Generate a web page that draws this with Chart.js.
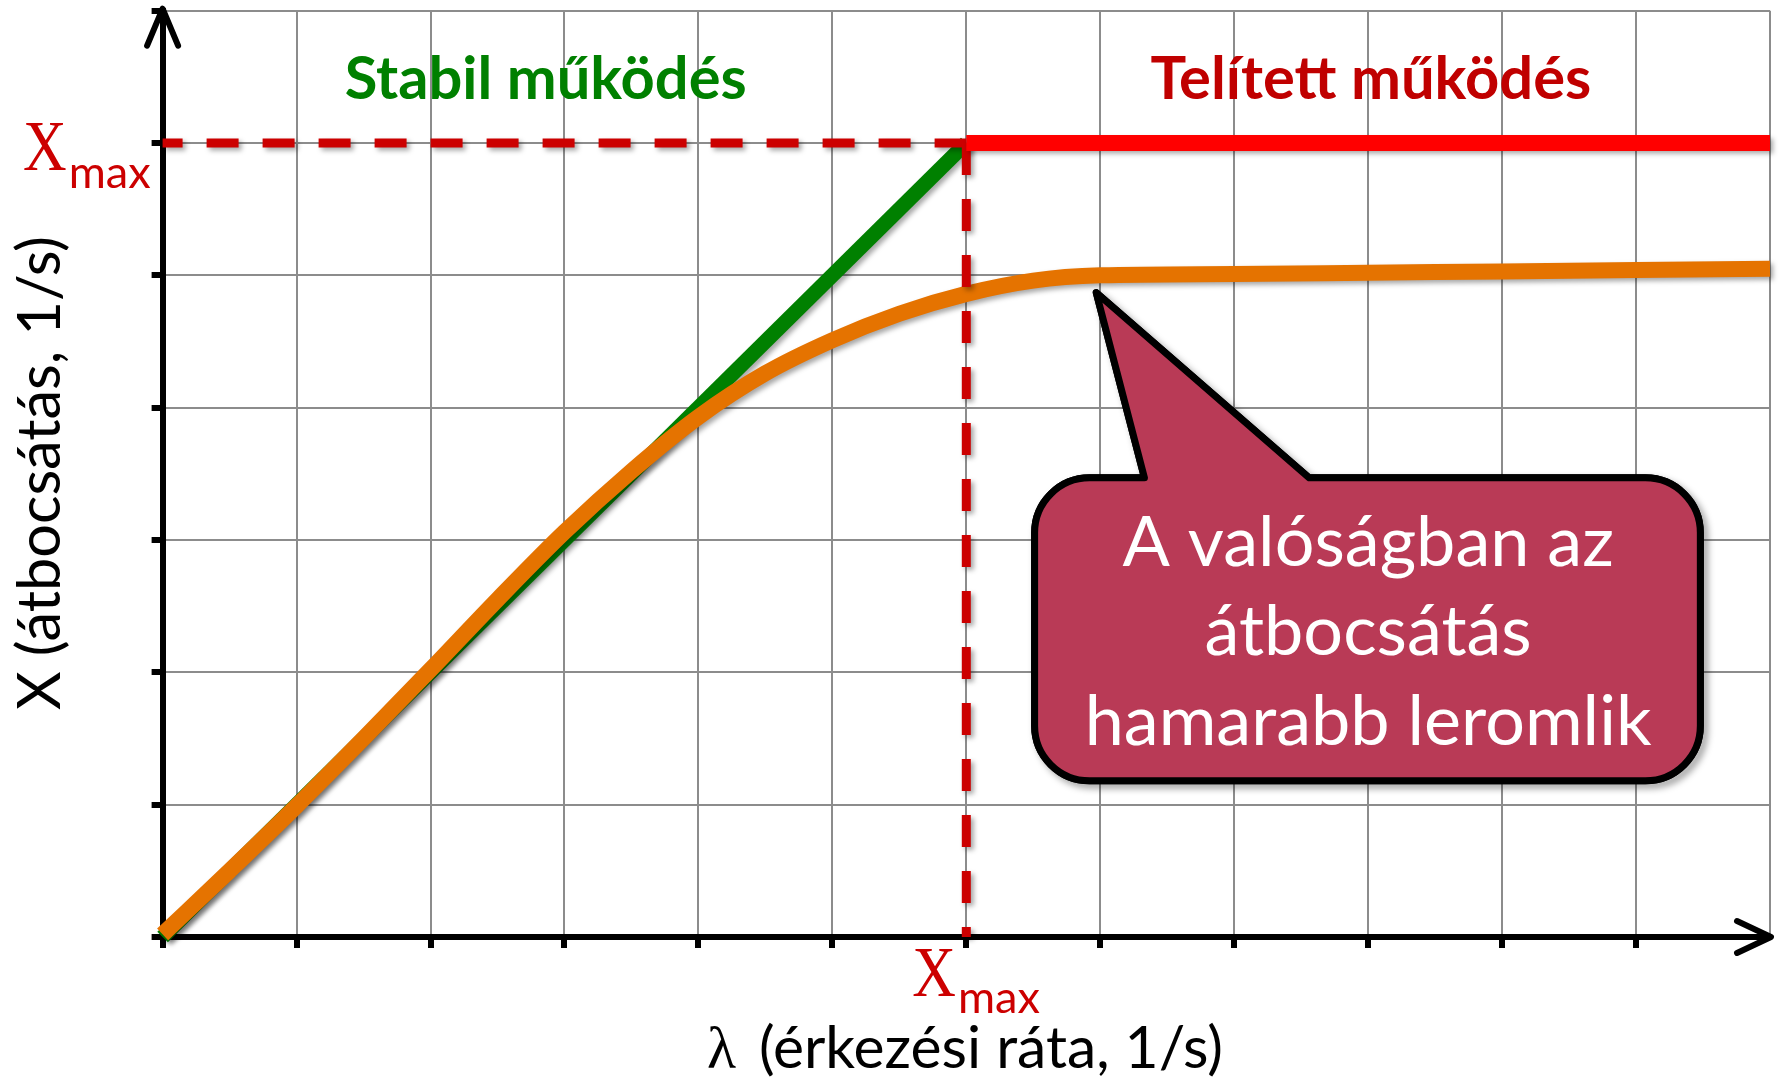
<!DOCTYPE html>
<html>
<head>
<meta charset="utf-8">
<script src="https://cdn.jsdelivr.net/npm/chart.js@4.4.1/dist/chart.umd.min.js"></script>
<style>
html, body { margin: 0; padding: 0; background: #fff; }
</style>
</head>
<body>
<canvas id="grafico" width="1783" height="1078"></canvas>
<script>
// értékek (tengelyegységek: rácsnégyzetek)
const xMax = 6;
const xTicks = [0, 1, 2, 3, 4, 5, 6, 7, 8, 9, 10, 11, 12];
const yTicks = [0, 1, 2, 3, 4, 5, 6, 7];

const stabilX = [0, 6];
const stabilY = [0, 6];

const telitettX = [6, 12];
const telitettY = [6, 6];

const valosX = [0, 0.5, 1, 1.5, 2, 2.5, 3, 3.5, 4, 4.5, 5, 5.5, 6, 6.5, 7, 8, 9, 10, 11, 12];
const valosY = [0.02, 0.5, 0.99, 1.5, 2.02, 2.55, 3.06, 3.52, 3.93, 4.26, 4.51, 4.71, 4.86, 4.96, 5.0, 5.01, 5.02, 5.03, 5.04, 5.05];

const cimStabil = "Stabil működés";
const cimTelitett = "Telített működés";
const tengelyX = "(érkezési ráta, 1/s)";
const tengelyY = "X (átbocsátás, 1/s)";
const buborekSorok = ["A valóságban az", "átbocsátás", "hamarabb leromlik"];

function pontok(xs, ys) {
    return xs.map((x, i) => ({ x: x, y: ys[i] }));
}

function illeszt(ctx, szoveg, font, szelesseg) {
    ctx.font = font.replace('SIZE', '100px');
    return 100 * szelesseg / ctx.measureText(szoveg).width;
}

const arnyek = {
    id: 'arnyek',
    beforeDatasetDraw(chart) {
        const c = chart.ctx;
        c.save();
        c.shadowColor = 'rgba(0,0,0,0.35)';
        c.shadowBlur = 5;
        c.shadowOffsetX = 3;
        c.shadowOffsetY = 3;
    },
    afterDatasetDraw(chart) {
        chart.ctx.restore();
    }
};

function xmaxCimke(ctx, xBal, alapX, alapMax) {
    ctx.save();
    ctx.fillStyle = '#cc0000';
    ctx.textAlign = 'left';
    ctx.textBaseline = 'alphabetic';
    ctx.save();
    ctx.translate(xBal, alapX);
    ctx.scale(0.84, 1);
    ctx.font = '72px "Liberation Serif"';
    ctx.fillText('X', 0, 0);
    const xSz = ctx.measureText('X').width * 0.84;
    ctx.restore();
    const meret = illeszt(ctx, 'max', 'SIZE Lato', 82);
    ctx.font = meret + 'px Lato';
    ctx.fillText('max', xBal + xSz + 2, alapMax);
    ctx.restore();
}

function buborekUt(ctx, L, T, R, B, r, csucsX, csucsY, b1, b2) {
    ctx.beginPath();
    ctx.moveTo(L + r, T);
    ctx.lineTo(b1, T);
    ctx.lineTo(csucsX, csucsY);
    ctx.lineTo(b2, T);
    ctx.lineTo(R - r, T);
    ctx.arcTo(R, T, R, T + r, r);
    ctx.lineTo(R, B - r);
    ctx.arcTo(R, B, R - r, B, r);
    ctx.lineTo(L + r, B);
    ctx.arcTo(L, B, L, B - r, r);
    ctx.lineTo(L, T + r);
    ctx.arcTo(L, T, L + r, T, r);
    ctx.closePath();
}

const rajz = {
    id: 'rajz',
    afterDraw(chart) {
        const ctx = chart.ctx;
        const sx = chart.scales.x;
        const sy = chart.scales.y;
        const px = v => sx.getPixelForValue(v);
        const py = v => sy.getPixelForValue(v);
        const a = chart.chartArea;

        // nyilak
        ctx.save();
        ctx.strokeStyle = '#000';
        ctx.lineWidth = 6;
        ctx.lineCap = 'round';
        ctx.lineJoin = 'round';
        ctx.beginPath();
        ctx.moveTo(a.left - 15.5, a.top + 35);
        ctx.lineTo(a.left, a.top - 2);
        ctx.lineTo(a.left + 15.5, a.top + 35);
        ctx.stroke();
        ctx.beginPath();
        ctx.moveTo(a.right - 33, a.bottom - 16);
        ctx.lineTo(a.right + 1, a.bottom);
        ctx.lineTo(a.right - 33, a.bottom + 16);
        ctx.stroke();
        ctx.restore();

        // címek
        ctx.save();
        ctx.textAlign = 'center';
        ctx.textBaseline = 'alphabetic';
        let m = illeszt(ctx, cimStabil, 'bold SIZE Lato', 402);
        ctx.font = 'bold ' + m + 'px Lato';
        ctx.fillStyle = '#008000';
        ctx.fillText(cimStabil, px(2.86), py(6.33));
        m = illeszt(ctx, cimTelitett, 'bold SIZE Lato', 441);
        ctx.font = 'bold ' + m + 'px Lato';
        ctx.fillStyle = '#c00000';
        ctx.fillText(cimTelitett, px(9.02), py(6.33));
        ctx.restore();

        // x tengely felirat
        ctx.save();
        ctx.fillStyle = '#000';
        ctx.textAlign = 'left';
        m = illeszt(ctx, tengelyX, 'SIZE Lato', 464);
        ctx.font = m + 'px Lato';
        ctx.fillText(tengelyX, 759, 1068);
        ctx.font = (m * 1.02) + 'px "Liberation Serif"';
        ctx.fillText('λ', 707, 1068);
        ctx.restore();

        // y tengely felirat
        ctx.save();
        ctx.fillStyle = '#000';
        ctx.textAlign = 'center';
        m = illeszt(ctx, tengelyY, 'SIZE Lato', 474);
        ctx.font = m + 'px Lato';
        ctx.translate(60, 473);
        ctx.rotate(-Math.PI / 2);
        ctx.fillText(tengelyY, 0, 0);
        ctx.restore();

        // Xmax feliratok
        xmaxCimke(ctx, 23, 170, 188);
        xmaxCimke(ctx, px(xMax) - 54, 996, 1013);

        // buborék
        const L = px(6.51), R = px(11.48), T = py(3.47), B = py(1.18);
        ctx.save();
        ctx.lineWidth = 7;
        ctx.lineJoin = 'round';
        ctx.strokeStyle = '#000';
        buborekUt(ctx, L, T, R, B, 55, px(6.97), py(4.87), px(7.33), px(8.56));
        ctx.shadowColor = 'rgba(0,0,0,0.4)';
        ctx.shadowBlur = 7;
        ctx.shadowOffsetX = 4;
        ctx.shadowOffsetY = 4;
        ctx.stroke();
        ctx.shadowColor = 'rgba(0,0,0,0)';
        ctx.fillStyle = '#b93a56';
        ctx.fill();
        ctx.stroke();

        ctx.fillStyle = '#fff';
        ctx.textAlign = 'center';
        m = illeszt(ctx, buborekSorok[2], 'SIZE Lato', 567);
        ctx.font = m + 'px Lato';
        const alap = [py(2.80), py(2.13), py(1.45)];
        buborekSorok.forEach((s, i) => ctx.fillText(s, px(9.0), alap[i]));
        ctx.restore();
    }
};

const ctx = document.getElementById('grafico').getContext('2d');
new Chart(ctx, {
    type: 'line',
    data: {
        datasets: [
            {
                label: 'Telített',
                data: pontok(telitettX, telitettY),
                borderColor: '#ff0000',
                borderWidth: 16,
                borderCapStyle: 'butt'
            },
            {
                label: 'Xmax függőleges',
                data: [{ x: xMax, y: xMax }, { x: xMax, y: 0 }],
                borderColor: '#cc0000',
                borderWidth: 9,
                borderDash: [32, 24],
                borderCapStyle: 'butt'
            },
            {
                label: 'Xmax vízszintes',
                data: [{ x: 0, y: xMax }, { x: xMax, y: xMax }],
                borderColor: '#cc0000',
                borderWidth: 9,
                borderDash: [32, 24],
                borderDashOffset: 12,
                borderCapStyle: 'butt'
            },
            {
                label: 'Valós',
                data: pontok(valosX, valosY),
                borderColor: '#e57300',
                borderWidth: 16,
                cubicInterpolationMode: 'monotone'
            },
            {
                label: 'Stabil',
                data: pontok(stabilX, stabilY),
                borderColor: '#008000',
                borderWidth: 15
            }
        ]
    },
    options: {
        responsive: false,
        animation: false,
        events: [],
        clip: false,
        elements: {
            point: { radius: 0 },
            line: { tension: 0 }
        },
        layout: {
            padding: { left: 151.6, right: 13, top: 10.7, bottom: 130 }
        },
        plugins: {
            legend: { display: false },
            tooltip: { enabled: false }
        },
        scales: {
            x: {
                type: 'linear',
                min: 0,
                max: 12,
                afterBuildTicks: axis => { axis.ticks = xTicks.map(v => ({ value: v })); },
                afterFit: s => { s.height = 11; },
                ticks: { display: false },
                grid: {
                    color: '#8c8c8c',
                    lineWidth: 2,
                    tickLength: 11,
                    tickWidth: 6,
                    tickColor: c => (c.tick && c.tick.value === 12) ? 'rgba(0,0,0,0)' : '#000'
                },
                border: { color: '#000', width: 6 }
            },
            y: {
                type: 'linear',
                min: 0,
                max: 7,
                afterBuildTicks: axis => { axis.ticks = yTicks.map(v => ({ value: v })); },
                afterFit: s => { s.width = 11; },
                ticks: { display: false },
                grid: {
                    color: '#8c8c8c',
                    lineWidth: 2,
                    tickLength: 11,
                    tickWidth: 6,
                    tickColor: '#000'
                },
                border: { color: '#000', width: 6 }
            }
        }
    },
    plugins: [arnyek, rajz]
});
</script>
</body>
</html>
